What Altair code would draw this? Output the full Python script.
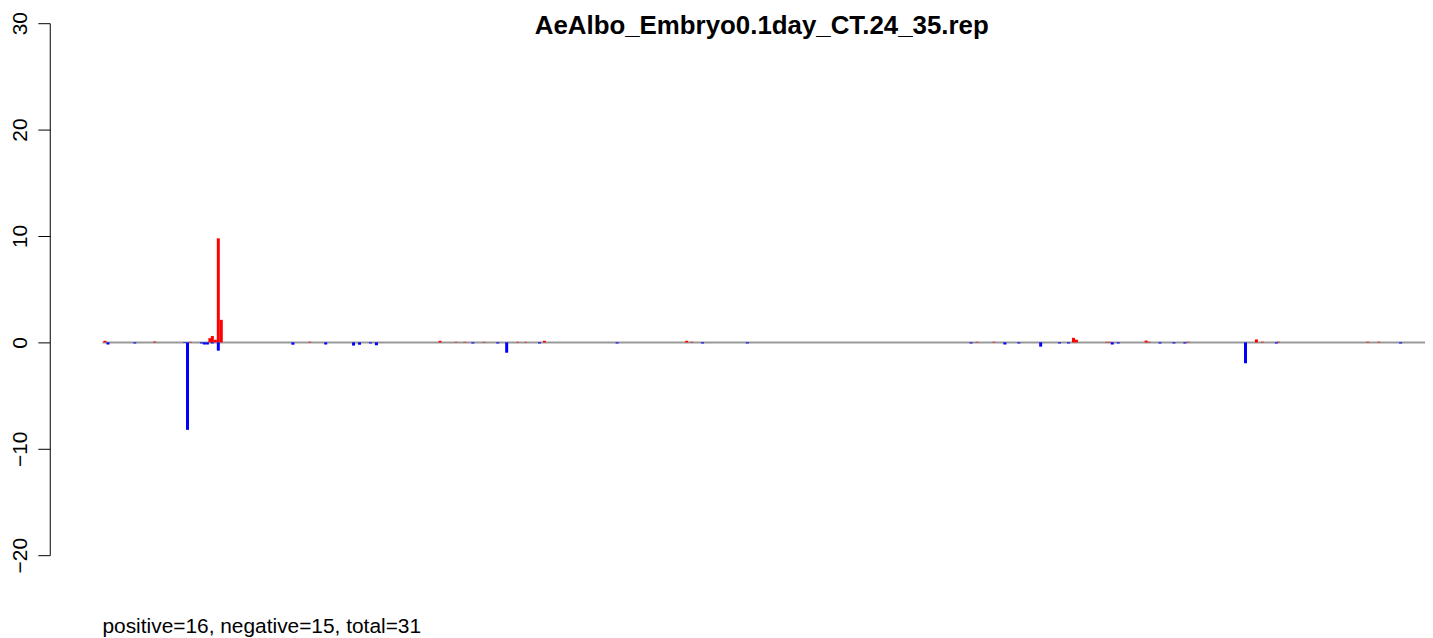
import altair as alt
import pandas as pd

# Bar positions (genome-like coordinate) and values
pos_x = [105.5, 155.5, 191.5, 211, 213.5, 216.5, 219.5, 222.5, 311.5, 442.5,
         458.5, 467.5, 486.5, 520.5, 528.5, 547.5, 690.5, 695.5, 982.5, 999.5,
         1079.5, 1082.5, 1113, 1116, 1152.5, 1155.5, 1194.5, 1263.5, 1269.5,
         1285.5, 1375.5, 1386.5]
pos_v = [0.15, 0.08, 0.05, 0.4, 0.6, 0.25, 9.78, 2.12, 0.06, 0.15,
         0.05, 0.05, 0.05, 0.05, 0.05, 0.15, 0.15, 0.06, 0.05, 0.06,
         0.43, 0.25, 0.05, 0.05, 0.17, 0.06, 0.06, 0.28, 0.06,
         0.06, 0.06, 0.06]

neg_x = [108.5, 135.5, 185.5, 188.5, 202.5, 205.5, 208.5, 213.5, 219.5, 294.5,
         327.5, 355.5, 361.5, 372.5, 378.5, 475.5, 500.5, 509.5, 542.5, 620.5,
         706.5, 751.5, 976.5, 1010.5, 1024.5, 1046.5, 1065.5, 1074.5, 1118.5,
         1124.5, 1166.5, 1180.5, 1191.5, 1252.5, 1283.5, 1408.5]
neg_v = [-0.2, -0.1, -0.05, -8.22, -0.1, -0.2, -0.2, -0.1, -0.78, -0.22,
         -0.2, -0.3, -0.22, -0.1, -0.27, -0.1, -0.1, -0.97, -0.1, -0.1,
         -0.1, -0.1, -0.1, -0.2, -0.1, -0.4, -0.1, -0.1, -0.2,
         -0.1, -0.1, -0.1, -0.1, -1.96, -0.1, -0.1]

y_ticks = [-20, -10, 0, 10, 20, 30]
title_text = "AeAlbo_Embryo0.1day_CT.24_35.rep"
summary_text = "positive=16, negative=15, total=31"
line_start = [103]
line_end = [1433]

bars_df = pd.DataFrame({
    "pos": pos_x + neg_x,
    "val": pos_v + neg_v,
    "sign": ["positive"] * len(pos_x) + ["negative"] * len(neg_x),
})

xs = alt.Scale(domain=[50, 1433], nice=False, zero=False)
ys = alt.Scale(domain=[-20, 30], nice=False, zero=False)

y_axis = alt.Axis(
    values=y_ticks, format="d", labelAngle=270, labelAlign="center",
    labelBaseline="alphabetic", labelPadding=11, tickSize=12,
    domainColor="black", tickColor="black", labelColor="black",
    labelFont="Liberation Sans", labelFontSize=21, grid=False, title=None,
    domainWidth=1, tickWidth=1, labelFlush=False, labelOverlap=False,
)

zero_line = alt.Chart(pd.DataFrame({"x": line_start, "x2": line_end, "y": [0]})).mark_rule(
    color="#999999", strokeWidth=2
).encode(
    x=alt.X("x:Q", scale=xs, axis=None),
    x2="x2:Q",
    y=alt.Y("y:Q", scale=ys, axis=y_axis),
)

bars = alt.Chart(bars_df).mark_rule(strokeWidth=3).encode(
    x=alt.X("pos:Q", scale=xs, axis=None),
    y=alt.Y("val:Q", scale=ys, axis=y_axis),
    y2=alt.datum(0),
    color=alt.Color("sign:N", scale=alt.Scale(domain=["positive", "negative"],
                                              range=["#FF0000", "#0000FF"]), legend=None),
)

title = alt.Chart(pd.DataFrame({"t": [title_text]})).mark_text(
    font="Liberation Sans", fontSize=26, fontWeight="bold", align="center",
    baseline="alphabetic", color="black"
).encode(text="t:N", x=alt.value(716), y=alt.value(11))

summary = alt.Chart(pd.DataFrame({"t": [summary_text]})).mark_text(
    font="Liberation Sans", fontSize=21, align="left", baseline="alphabetic", color="black"
).encode(text="t:N", x=alt.value(53), y=alt.value(613.5))

chart = alt.layer(zero_line, bars, title, summary).properties(
    width=1383,
    height=535,
    autosize=alt.AutoSizeParams(type="none"),
    padding={"left": 42, "top": 13.5, "right": 0, "bottom": 81.5},
).configure_view(stroke=None)

chart.save("out.html", embed_options={"renderer": "svg", "actions": False})
